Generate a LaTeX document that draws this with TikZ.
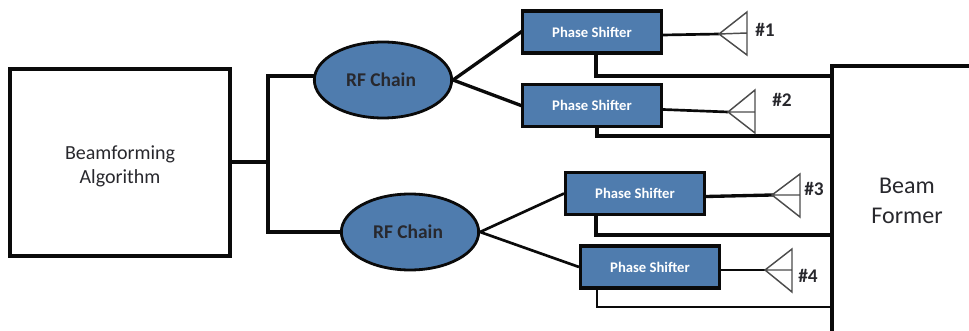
\documentclass[tikz,border=0pt]{standalone}
\usepackage{fontspec}
\setmainfont{Carlito}
\usetikzlibrary{shapes.geometric}
\definecolor{fillblue}{RGB}{79,124,174}
\definecolor{linedark}{RGB}{10,10,10}
\definecolor{textdark}{RGB}{40,40,45}
\tikzset{
  x=0.75pt,y=-0.75pt,
  wire/.style={draw=linedark,line width=2.5pt,line cap=rect,line join=miter},
  thinwire/.style={draw=linedark,line width=2pt},
  antenna/.style={draw=black!70,line width=1.1pt,line join=miter},
  algbox/.style={draw=linedark,line width=2.5pt,fill=white,minimum width=165pt,minimum height=140pt,align=center,inner sep=0pt,font=\fontsize{15pt}{18pt}\selectfont,text=textdark},
  psbox/.style={draw=linedark,line width=2.5pt,fill=fillblue,minimum width=104pt,minimum height=31.5pt,inner sep=0pt,text=white,font=\fontsize{11pt}{12pt}\selectfont\bfseries},
  rfell/.style={ellipse,draw=linedark,line width=2.1pt,fill=fillblue,minimum width=103pt,minimum height=57pt,inner sep=0pt,text=textdark,font=\fontsize{14.6pt}{16pt}\selectfont\bfseries},
  numlabel/.style={text=textdark,inner sep=0pt,font=\fontsize{14.5pt}{16pt}\selectfont\bfseries},
  bflabel/.style={align=center,inner sep=0pt,text=textdark,font=\fontsize{18pt}{22.5pt}\selectfont}
}
\begin{document}
\begin{tikzpicture}
\useasboundingbox (0,0) rectangle (969,331);
\node[algbox] (alg) at (120,162.5) {\rule{0pt}{16pt}Beamforming\\Algorithm};
\node[rfell] (rf1) at (383,80) {\hspace*{-3pt}RF Chain};
\node[rfell] (rf2) at (410,232) {\hspace*{-3pt}RF Chain};
\node[psbox] (ps1) at (592,32) {Phase Shifter};
\node[psbox] (ps2) at (592,105.5) {Phase Shifter};
\node[psbox] (ps3) at (635,193.5) {Phase Shifter};
\node[psbox] (ps4) at (650,267) {Phase Shifter};
% Beam former outline (open at the page edge)
\coordinate (bfb) at (832,331);
\coordinate (bft) at (832,66);
\coordinate (bfr) at (969,66);
\draw[wire] (bfb) -- (bft) -- (bfr);
\node[bflabel] (bf) at (907,201) {Beam\\Former};
% algorithm tree
\coordinate (j0) at (268,162);
\coordinate (j1) at (268,76);
\coordinate (j2) at (268,232);
\draw[wire] (alg.east |- j0) -- (j0);
\draw[wire] (rf1.west |- j1) -- (j1) -- (j2) -- (rf2.west |- j2);
% RF to shifter
\draw[wire] (rf1.east) -- (ps1.west);
\draw[wire] (rf1.east) -- (ps2.west);
\draw[thinwire] (rf2.east) -- (ps3.west);
\draw[thinwire] (rf2.east) -- (ps4.west);
% shifter to former
\coordinate (b1) at (596,76);
\coordinate (b2) at (597,136);
\coordinate (b3) at (596,235);
\coordinate (b4) at (597,307);
\coordinate (e1) at (832,76);
\coordinate (e2) at (832,136);
\coordinate (e3) at (832,235);
\coordinate (e4) at (832,307);
\draw[wire] (b1 |- ps1.south) -- (b1) -- (e1);
\draw[wire] (b2 |- ps2.south) -- (b2) -- (e2);
\draw[wire] (b3 |- ps3.south) -- (b3) -- (e3);
\draw[thinwire] (b4 |- ps4.south) -- (b4) -- (e4);
% antennas
\coordinate (a1) at (719,34); \coordinate (a2) at (728,112);
\coordinate (a3) at (772,195); \coordinate (a4) at (765,270);
\draw[thinwire] (ps1.east) ++(0,3) -- (a1);
\draw[thinwire] (ps2.east) ++(0,4) -- (a2);
\draw[wire] (ps3.east) ++(0,3) -- (a3);
\draw[thinwire] (ps4.east) ++(0,3) -- (a4);
\draw[antenna] (a1) -- (747,12) -- (747,55) -- cycle (a1) -- (747,33);
\draw[antenna] (a2) -- (755,90) -- (755,133) -- cycle (a2) -- (755,112);
\draw[antenna] (a3) -- (800,174) -- (800,217) -- cycle (a3) -- (800,195);
\draw[antenna] (a4) -- (792,249) -- (792,292) -- cycle (a4) -- (792,270);
\node[numlabel] (n1) at (765,30) {\#1};
\node[numlabel] (n2) at (782,100) {\#2};
\node[numlabel] (n3) at (814,189) {\#3};
\node[numlabel] (n4) at (808,276) {\#4};
\end{tikzpicture}
\end{document}
